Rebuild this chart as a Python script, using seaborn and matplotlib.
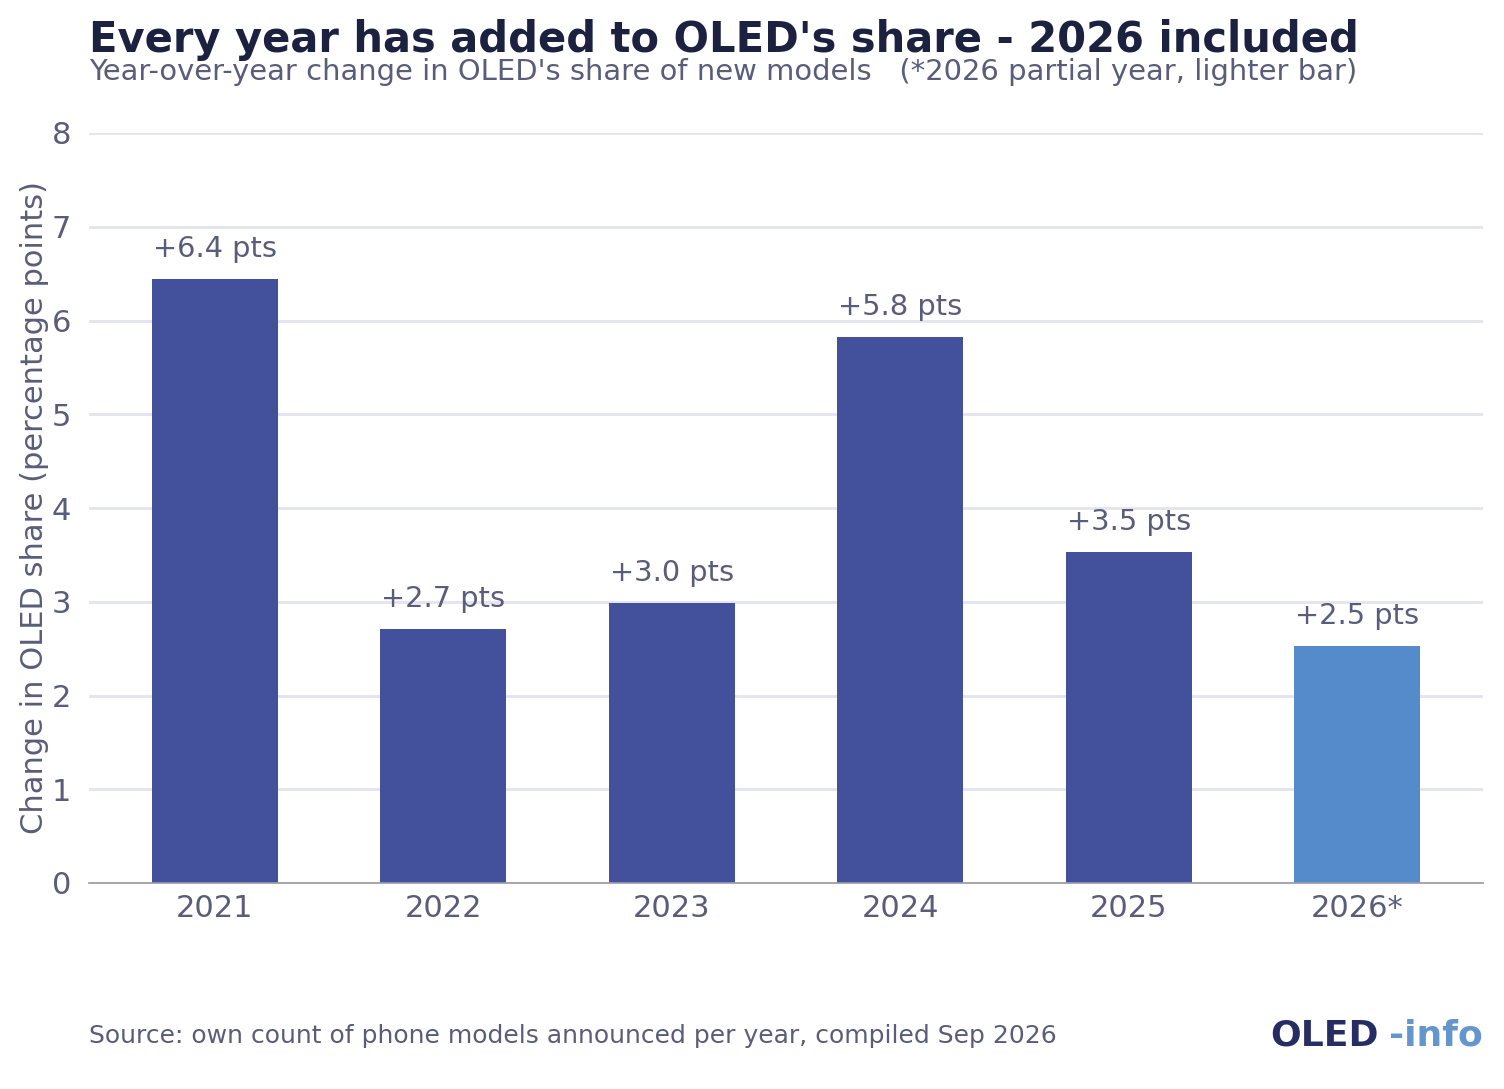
import matplotlib
matplotlib.use("Agg")
import matplotlib.pyplot as plt
import seaborn as sns
import pandas as pd

years = ["2021", "2022", "2023", "2024", "2025", "2026*"]
changes = [6.44, 2.71, 2.99, 5.82, 3.53, 2.53]
labels = ["+6.4 pts", "+2.7 pts", "+3.0 pts", "+5.8 pts", "+3.5 pts", "+2.5 pts"]
colors = ["#43509c"] * 5 + ["#558bcb"]

sns.set_theme(style="white")
plt.rcParams['font.family'] = ['DejaVu Sans']
grey = "#5a5d7a"

df = pd.DataFrame({"year": years, "change": changes})
fig = plt.figure(figsize=(15.04, 10.89), dpi=100)
ax = fig.add_axes([89/1504, 1 - 883/1089, (1483-89)/1504, (883-133)/1089])
sns.barplot(data=df, x="year", y="change", hue="year", palette=colors, legend=False,
            width=0.55, ax=ax, saturation=1, linewidth=0)
ax.set_ylim(0, 8)
ax.set_xlim(-0.55, 5.55)
ax.set_yticks(range(0, 9))
ax.yaxis.grid(True, color="#e4e4ee", linewidth=2)
ax.set_axisbelow(True)
for s in ["top", "right", "left"]:
    ax.spines[s].set_visible(False)
ax.spines["bottom"].set_color("#9a9aaa")
ax.tick_params(axis="both", labelsize=22, colors=grey, length=0)
ax.tick_params(axis="x", pad=8)
for t in ax.get_yticklabels():
    t.set_horizontalalignment("center")
ax.tick_params(axis="y", pad=20)
ax.set_xlabel("")
ax.set_ylabel("Change in OLED share (percentage points)", fontsize=22, color=grey, labelpad=2)
for i, (v, l) in enumerate(zip(changes, labels)):
    ax.text(i, v + 0.17, l, ha="center", va="bottom", fontsize=20.8, color=grey)

fig.text(89/1504, 1 - 40/1089, "Every year has added to OLED's share - 2026 included",
         fontsize=30, fontweight="bold", color="#1c2140", va="center")
fig.text(89/1504, 1 - 72/1089, "Year-over-year change in OLED's share of new models   (*2026 partial year, lighter bar)",
         fontsize=20.9, color=grey, va="center")
fig.text(89/1504, 1 - 1036/1089, "Source: own count of phone models announced per year, compiled Sep 2026",
         fontsize=18, color=grey, va="center")
fig.text(1270/1504, 1 - 1036/1089, "OLED", fontsize=26, fontweight="bold", color="#252d63",
         va="center", ha="left")
fig.text(1483/1504, 1 - 1036/1089, "-info", fontsize=26, fontweight="bold", color="#6495cc",
         va="center", ha="right")
fig.savefig("out.png", dpi=100)
